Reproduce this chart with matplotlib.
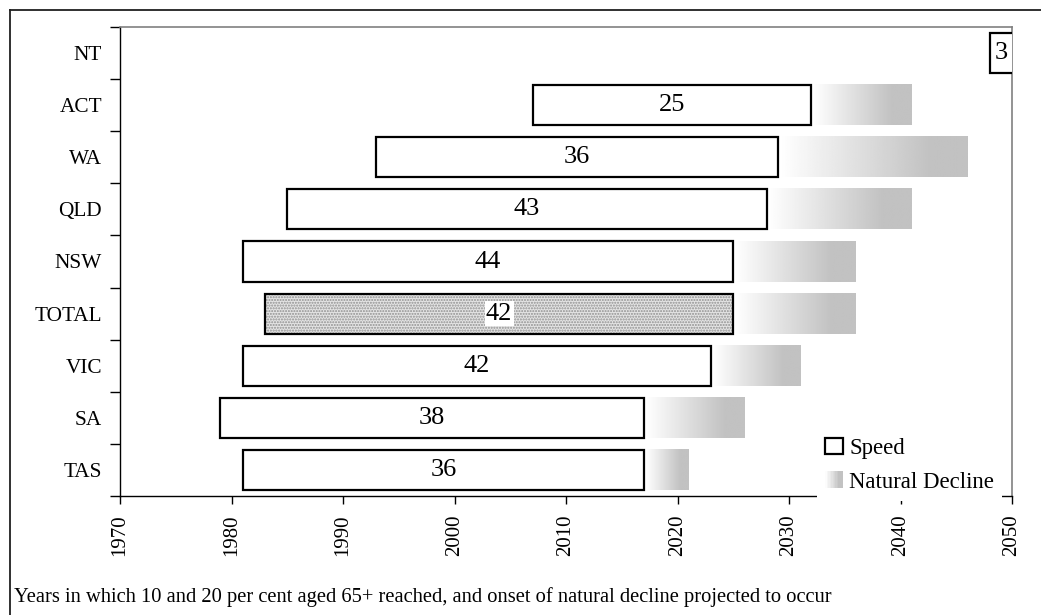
import numpy as np
import matplotlib
matplotlib.use("Agg")
import matplotlib.pyplot as plt
from matplotlib.patches import Rectangle
from matplotlib.legend_handler import HandlerBase
from matplotlib.lines import Line2D

plt.rcParams.update({
    "font.family": "Liberation Serif",
    "font.size": 15,
})

# Dados: ano de inicio (10% com 65+), anos ate 20% e inicio do declinio natural
estados = ["NT", "ACT", "WA", "QLD", "NSW", "TOTAL", "VIC", "SA", "TAS"]
ano_inicio = [2048, 2007, 1993, 1985, 1981, 1983, 1981, 1979, 1981]
velocidade = [3, 25, 36, 43, 44, 42, 42, 38, 36]
ano_declinio = [None, 2041, 2046, 2041, 2036, 2036, 2031, 2026, 2021]

X_MIN, X_MAX = 1970, 2050
ALTURA = 0.77
CINZA_FIM = 0.76


class GradienteHandler(HandlerBase):
    """Desenha o quadrado em degrade da legenda."""

    def create_artists(self, legend, orig_handle, xdescent, ydescent,
                       width, height, fontsize, trans):
        n = 12
        w = width / n
        artistas = []
        for i in range(n):
            t = min(1.0, (i + 0.5) / n / 0.8)
            g = 1.0 - t * (1.0 - CINZA_FIM)
            artistas.append(Rectangle((-xdescent + i * w, -ydescent), w * 1.05, height,
                                      facecolor=(g, g, g), edgecolor="none",
                                      transform=trans))
        return artistas


fig = plt.figure(figsize=(10.41, 6.15), dpi=100)
W, H = 1041, 615
ax = fig.add_axes([120 / W, 1 - 496 / H, (1012 - 120) / W, (496 - 27) / H])

# degrade branco -> cinza
rampa = np.clip(np.linspace(0, 1, 256) / 0.8, 0, 1)
grad = (1.0 - rampa * (1.0 - CINZA_FIM))[np.newaxis, :]

y = np.arange(len(estados))
for i, est in enumerate(estados):
    fim = ano_inicio[i] + velocidade[i]
    if ano_declinio[i] is not None:
        ax.imshow(grad, extent=[fim + 0.15, ano_declinio[i], i + ALTURA / 2, i - ALTURA / 2],
                  aspect="auto", cmap="gray", vmin=0, vmax=1, zorder=1,
                  interpolation="bilinear")
    if est == "TOTAL":
        ax.barh(i, velocidade[i], left=ano_inicio[i], height=ALTURA,
                facecolor="#e4e4e4", edgecolor="#909090", hatch="......",
                linewidth=0, zorder=2)
        ax.barh(i, velocidade[i], left=ano_inicio[i], height=ALTURA,
                facecolor="none", edgecolor="black", linewidth=1.6, zorder=3)
    else:
        ax.barh(i, velocidade[i], left=ano_inicio[i], height=ALTURA,
                facecolor="white", edgecolor="black", linewidth=1.6, zorder=3)

    # rotulo centrado na parte visivel da barra
    centro = (ano_inicio[i] + min(fim, X_MAX)) / 2
    bbox = None
    if est == "TOTAL":
        bbox = dict(facecolor="white", edgecolor="none", pad=1)
    ax.text(centro, i, str(velocidade[i]), ha="center", va="center",
            fontsize=19, zorder=4, bbox=bbox, clip_on=True)

ax.set_xlim(X_MIN, X_MAX)
ax.set_ylim(len(estados) - 0.5, -0.5)

ax.set_xticks(np.arange(1970, 2051, 10))
ax.tick_params(axis="x", direction="out", length=6, width=1, pad=7,
               labelrotation=90, labelsize=15)
ax.set_yticks(y)
ax.set_yticklabels(estados)
ax.set_yticks(np.arange(-0.5, len(estados), 1), minor=True)
ax.tick_params(axis="y", which="major", length=0, pad=13, labelsize=15.3)
ax.tick_params(axis="y", which="minor", direction="out", length=7, width=1)

for lado in ["top", "right"]:
    ax.spines[lado].set_color("#808080")
    ax.spines[lado].set_linewidth(1.2)
for lado in ["left", "bottom"]:
    ax.spines[lado].set_color("black")
    ax.spines[lado].set_linewidth(1.0)

h_speed = Rectangle((0, 0), 1, 1, facecolor="white", edgecolor="black", linewidth=1.6)
h_decl = Rectangle((0, 0), 1, 1)
leg = ax.legend([h_speed, h_decl], ["Speed", "Natural Decline"],
                handler_map={h_decl: GradienteHandler()},
                loc="lower right", bbox_to_anchor=(0.989, -0.01),
                fontsize=16.4, frameon=True, framealpha=1, facecolor="white",
                edgecolor="none", fancybox=False, handlelength=0.75,
                handleheight=0.75, handletextpad=0.3, labelspacing=0.55,
                borderpad=0.35, borderaxespad=0.0)
leg.set_zorder(5)

# moldura externa e legenda do grafico
fig.add_artist(Line2D([10 / W, 10 / W], [0, 1 - 10 / H], color="#202020", linewidth=1.3))
fig.add_artist(Line2D([10 / W, 1], [1 - 10 / H, 1 - 10 / H], color="#202020", linewidth=1.3))
fig.text(14 / W, 1 - 597 / H,
         "Years in which 10 and 20 per cent aged 65+ reached, and onset of natural decline projected to occur",
         ha="left", va="center", fontsize=14.8)

fig.savefig("out.png", dpi=100)
